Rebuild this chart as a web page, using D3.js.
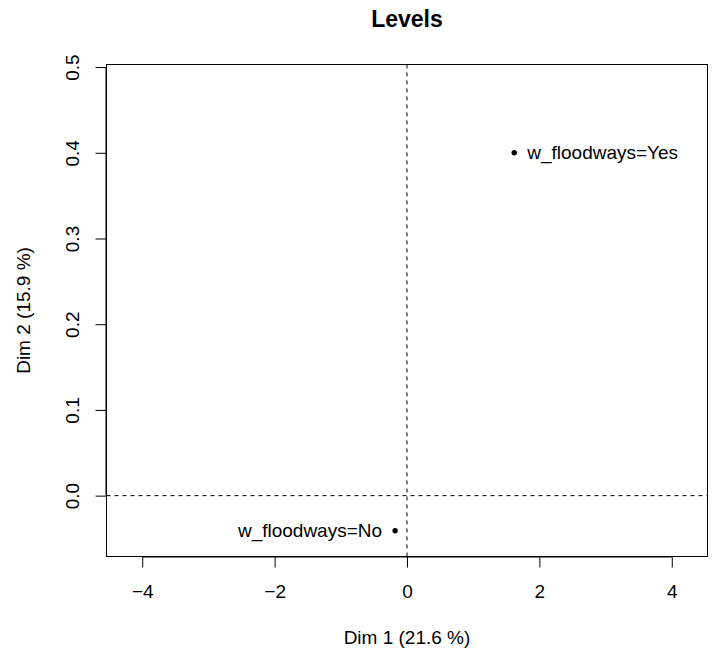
<!DOCTYPE html>
<html>
<head>
<meta charset="utf-8">
<script src="https://cdn.jsdelivr.net/npm/d3@7"></script>
<style>
  body { margin: 0; background: #fff; }
  svg text { font-family: "Liberation Sans", Arial, Helvetica, sans-serif; fill: #000; }
</style>
</head>
<body>
<svg id="chart" width="716" height="653"></svg>
<script>
// Category levels and their coordinates on the first two dimensions
const levels = ["w_floodways=Yes", "w_floodways=No"];
const dim1 = [1.62, -0.18];
const dim2 = [0.400, -0.041];
const labelSide = ["right", "left"];

const xTicks = [-4, -2, 0, 2, 4];
const yTicks = [0.0, 0.1, 0.2, 0.3, 0.4, 0.5];

const title = "Levels";
const xTitle = "Dim 1 (21.6 %)";
const yTitle = "Dim 2 (15.9 %)";

const W = 716, H = 653;
const margin = { left: 106.5, right: 8.5, top: 64.5, bottom: 96.5 };
const fs = 19;

const svg = d3.select("#chart");

const x = d3.scaleLinear().domain([-4.54, 4.54]).range([margin.left, W - margin.right]);
const y = d3.scaleLinear().domain([-0.071, 0.503]).range([H - margin.bottom, margin.top]);

// reference lines through the origin
svg.append("line")
  .attr("x1", x(0)).attr("x2", x(0))
  .attr("y1", margin.top).attr("y2", H - margin.bottom)
  .attr("stroke", "#000").attr("stroke-width", 1).attr("stroke-dasharray", "4,4");
svg.append("line")
  .attr("x1", margin.left).attr("x2", W - margin.right)
  .attr("y1", y(0)).attr("y2", y(0))
  .attr("stroke", "#000").attr("stroke-width", 1).attr("stroke-dasharray", "4,4");

// frame
svg.append("rect")
  .attr("x", margin.left).attr("y", margin.top)
  .attr("width", W - margin.left - margin.right)
  .attr("height", H - margin.top - margin.bottom)
  .attr("fill", "none").attr("stroke", "#000").attr("stroke-width", 1);

// x axis
const xAxis = svg.append("g")
  .attr("transform", `translate(0,${H - margin.bottom})`)
  .call(d3.axisBottom(x).tickValues(xTicks).tickSize(11).tickPadding(17)
    .tickFormat(d => d3.format("d")(d).replace("-", "\u2212")));
xAxis.select(".domain").attr("d", `M${x(-4)},0.5H${x(4)}`);
xAxis.selectAll("text").attr("font-size", fs).attr("font-family", null);

// y axis
const yAxis = svg.append("g")
  .attr("transform", `translate(${margin.left},0)`)
  .call(d3.axisLeft(y).tickValues(yTicks).tickSize(11).tickFormat(d3.format(".1f")));
yAxis.select(".domain").attr("d", `M-0.5,${y(0)}V${y(0.5)}`);
yAxis.selectAll("text")
  .attr("font-size", fs).attr("font-family", null)
  .attr("x", null)
  .attr("text-anchor", "middle")
  .attr("transform", "translate(-34,0) rotate(-90)")
  .attr("dy", "0.35em");

// points and labels
const pts = svg.append("g");
levels.forEach((lab, i) => {
  pts.append("circle")
    .attr("cx", x(dim1[i])).attr("cy", y(dim2[i]))
    .attr("r", 2.7).attr("fill", "#000");
  const right = labelSide[i] === "right";
  pts.append("text")
    .attr("x", x(dim1[i]) + (right ? 13 : -13))
    .attr("y", y(dim2[i]))
    .attr("dy", "0.35em")
    .attr("text-anchor", right ? "start" : "end")
    .attr("font-size", fs)
    .text(lab);
});

// titles
svg.append("text")
  .attr("x", (margin.left + W - margin.right) / 2).attr("y", 18.5)
  .attr("dy", "0.35em")
  .attr("text-anchor", "middle").attr("font-size", 23).attr("font-weight", "bold")
  .text(title);
svg.append("text")
  .attr("x", (margin.left + W - margin.right) / 2).attr("y", 637)
  .attr("dy", "0.35em")
  .attr("text-anchor", "middle").attr("font-size", fs)
  .text(xTitle);
svg.append("text")
  .attr("transform", `translate(23,${(margin.top + H - margin.bottom) / 2}) rotate(-90)`)
  .attr("dy", "0.35em")
  .attr("text-anchor", "middle").attr("font-size", fs)
  .text(yTitle);
</script>
</body>
</html>
